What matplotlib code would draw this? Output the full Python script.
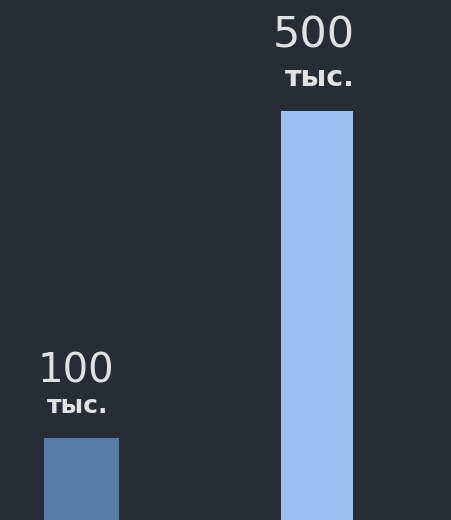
import matplotlib
matplotlib.use("Agg")
import matplotlib.pyplot as plt

values = [100, 500]
labels = ["100", "500"]
unit = "тыс."
colors = ["#587ca8", "#9ac0f2"]
widths = [0.318, 0.306]

# label styling per bar: (number size, unit size, number dx, unit dx, number dy)
num_sizes = [29, 31]
unit_sizes = [18, 20.5]
num_dx = [-4, -2]
unit_dx = [-3, 2]
num_dy = [40, 46]

bg = "#282c35"
txt = "#e2e2e2"

fig = plt.figure(figsize=(4.51, 5.2), dpi=100, facecolor=bg)
ax = fig.add_axes([0, 0, 1, 1])
ax.set_facecolor(bg)

pos = range(len(values))
bars = ax.bar(pos, values, width=widths, color=colors)

ax.set_xlim(-0.346, 1.569)
ax.set_ylim(0, 635.7)
ax.axis("off")

for i, (b, lab) in enumerate(zip(bars, labels)):
    x = b.get_x() + b.get_width() / 2
    top = b.get_height()
    ax.annotate(unit, (x, top), xytext=(unit_dx[i], 18), textcoords="offset points",
                ha="center", va="baseline", fontsize=unit_sizes[i], fontweight="bold",
                color=txt, family="DejaVu Sans")
    ax.annotate(lab, (x, top), xytext=(num_dx[i], num_dy[i]), textcoords="offset points",
                ha="center", va="baseline", fontsize=num_sizes[i],
                color=txt, family="DejaVu Sans")

fig.savefig("out.png", dpi=100, facecolor=bg)
